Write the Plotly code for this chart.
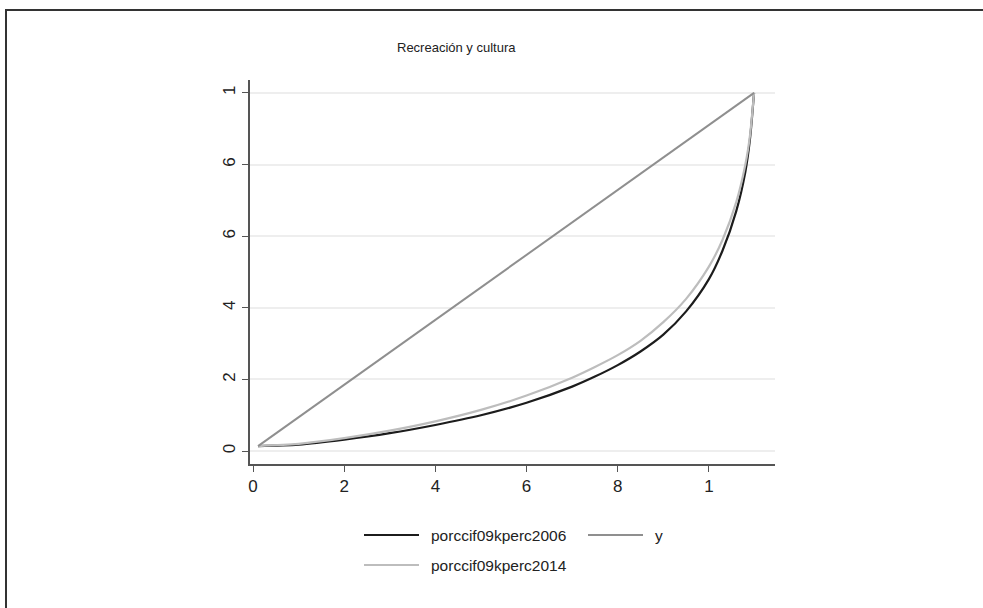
import plotly.graph_objects as go

# Cumulative share of population (x) and of expenditure (y) for each year
pop_share = [0.011, 0.1, 0.2, 0.3, 0.4, 0.5, 0.6, 0.7, 0.75, 0.8, 0.85, 0.9,
             0.95, 1.0, 1.03, 1.06, 1.08, 1.09, 1.099]
share_2006 = [0.014, 0.018, 0.032, 0.050, 0.073, 0.100, 0.135, 0.180, 0.208,
              0.240, 0.278, 0.325, 0.390, 0.480, 0.560, 0.670, 0.780, 0.870, 1.0]
share_2014 = [0.014, 0.020, 0.036, 0.057, 0.083, 0.115, 0.155, 0.205, 0.235,
              0.268, 0.308, 0.360, 0.425, 0.515, 0.590, 0.695, 0.800, 0.880, 1.0]
# Line of perfect equality
eq_x = [0.011, 1.099]
eq_y = [0.014, 1.0]

tick_vals = [0, 0.2, 0.4, 0.6, 0.8, 1.0]
x_tick_text = ["0", "2", "4", "6", "8", "1"]
y_tick_text = ["0", "2", "4", "6", "6", "1"]

series_names = ["porccif09kperc2006", "y", "porccif09kperc2014"]
series_colors = ["#1c1c1c", "#8f8f8f", "#bdbdbd"]

FONT = "Liberation Sans, Arial, sans-serif"

fig = go.Figure()
fig.add_trace(go.Scatter(x=pop_share, y=share_2006, mode="lines", name=series_names[0],
                         line=dict(color=series_colors[0], width=2.2, shape="spline",
                                   smoothing=0.8)))
fig.add_trace(go.Scatter(x=pop_share, y=share_2014, mode="lines", name=series_names[2],
                         line=dict(color=series_colors[2], width=2.2, shape="spline",
                                   smoothing=0.8)))
fig.add_trace(go.Scatter(x=eq_x, y=eq_y, mode="lines", name=series_names[1],
                         line=dict(color=series_colors[1], width=2)))

W, H = 983, 608
L, R, T, B = 250, 208, 80, 144
PW, PH = W - L - R, H - T - B


def px(x):
    return (x - L) / PW


def py(y):
    return (H - B - y) / PH


shapes = []
annotations = []

# Outer frame around the whole graph
shapes.append(dict(type="rect", xref="paper", yref="paper",
                   x0=px(6), x1=px(1000), y0=py(630), y1=py(10),
                   line=dict(color="#333333", width=2), layer="below"))

# Legend: sample line + label for each series
legend_items = [
    (0, 364, 419, 535),
    (1, 588, 643, 535),
    (2, 364, 419, 565),
]
for idx, xa, xb, yy in legend_items:
    shapes.append(dict(type="line", xref="paper", yref="paper",
                       x0=px(xa), x1=px(xb), y0=py(yy), y1=py(yy),
                       line=dict(color=series_colors[idx], width=2.2)))
    annotations.append(dict(xref="paper", yref="paper", x=px(xb + 10), y=py(yy),
                            xanchor="left", yanchor="middle", showarrow=False,
                            text=series_names[idx],
                            font=dict(family=FONT, size=15.5, color="#222222")))

# Title
annotations.append(dict(xref="paper", yref="paper", x=px(456), y=py(47),
                        xanchor="center", yanchor="middle", showarrow=False,
                        text="Recreación y cultura",
                        font=dict(family=FONT, size=13, color="#222222")))

fig.update_layout(
    width=W, height=H,
    margin=dict(l=L, r=R, t=T, b=B, pad=0),
    paper_bgcolor="white", plot_bgcolor="white",
    showlegend=False,
    shapes=shapes,
    annotations=annotations,
    font=dict(family=FONT, size=17, color="#222222"),
)
fig.update_xaxes(range=[-0.0066, 1.145], tickvals=tick_vals, ticktext=x_tick_text,
                 showgrid=False, zeroline=False, showline=True, linecolor="#555555",
                 linewidth=1.5, ticks="outside", ticklen=6, tickcolor="#555555",
                 tickfont=dict(family=FONT, size=17, color="#222222"))
fig.update_yaxes(range=[-0.036, 1.036], tickvals=tick_vals, ticktext=y_tick_text,
                 showgrid=True, gridcolor="#eeeeee", gridwidth=1.5, zeroline=False,
                 showline=True, linecolor="#555555", linewidth=1.5,
                 ticks="outside", ticklen=6, tickcolor="#555555", tickangle=-90,
                 tickfont=dict(family=FONT, size=17, color="#222222"))

fig.write_html("out.html")
